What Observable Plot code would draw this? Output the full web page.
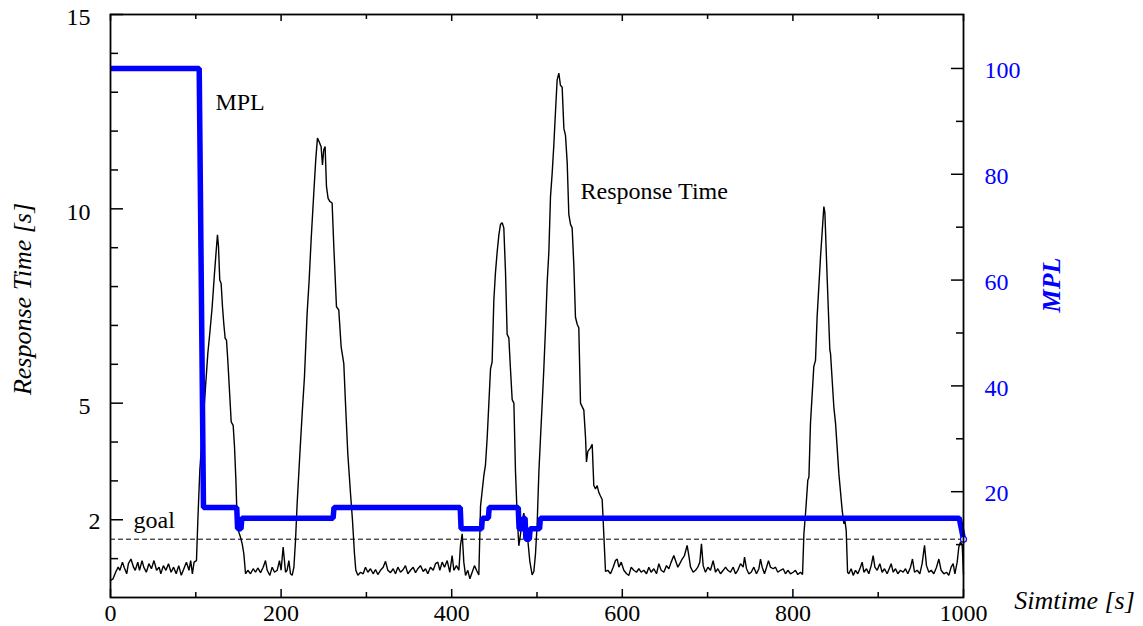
<!DOCTYPE html>
<html>
<head>
<meta charset="utf-8">
<script src="https://cdn.jsdelivr.net/npm/d3@7"></script>
<script src="https://cdn.jsdelivr.net/npm/@observablehq/plot@0.6"></script>
<style>
  html, body { margin: 0; padding: 0; background: #fff; }
  svg { display: block; }
</style>
</head>
<body>
<div id="chart"></div>
<script>
// ---------------- DATA ----------------
// Response time [s] over simulation time [s] : [time, value]
const responseTime = [
  [0,0.44],[3,0.48],[6,0.65],[9,0.78],[11,0.7],[14,0.91],[16,0.78],[19,0.61],[21,0.87],[24,0.99],[27,0.78],[29,0.7],[32,0.91],[34,0.7],[37,0.95],[39,0.78],[42,0.65],[45,0.87],[48,0.74],[51,0.95],[54,0.7],[57,0.78],[59,0.61],[62,0.82],[65,0.7],[68,0.87],[71,0.65],[74,0.78],[77,0.61],[80,0.82],[83,0.57],[86,0.74],[89,0.91],[92,0.7],[94,0.95],[96,0.61],[98,0.91],[100.8,0.95],
  [102.4,1.98],[104.7,3.27],[107.4,4.13],[111.4,5.42],[114.1,6.28],[116.4,6.8],[119.2,7.48],[121.9,8.34],[124.3,9.03],[125.4,9.33],[126.6,9.03],[128.1,8.17],[129.7,8.08],[131.3,7.48],[132.8,7.05],[134.4,6.67],[136,6.62],[137.5,6.11],[139.9,5.16],[141.5,4.52],[143.8,4.43],[145.4,3.87],[147,3.02],[148.5,1.98],[150.5,1.68],[152.4,1.55],[154.4,1.38],[156.3,1.13],[158.3,0.61],
  [161,0.7],[164.1,0.61],[167.3,0.74],[170,0.65],[172.7,0.76],[175.9,0.64],[179,0.78],[181.7,0.95],[183.7,0.7],[186.8,0.57],[189.5,0.78],[192.3,0.65],[195.4,0.7],[198.1,0.95],[200,0.7],[202.4,1.3],[205.2,0.65],[207,0.7],[209.1,0.95],[211,0.61],[213,0.57],
  [215,0.78],[216.9,1.47],[218.8,2.41],[222,3.7],[224.7,4.73],[227.4,5.68],[230.5,7.31],[232.9,8.17],[235.2,9.2],[238.3,10.4],[240.6,11.26],[242.6,11.82],[244.5,11.73],[246.9,11.6],[248.5,11.13],[250,11.52],[251.6,11.6],[253.2,10.57],[255.1,10.27],[257.1,10.19],[259.8,10.15],[261.8,9.03],[264.9,7.48],[267.6,7.4],[270.4,6.45],[273.5,6.02],[275.5,4.99],[278.2,3.7],[281.4,2.67],[283.7,1.98],[286,1.13],[287.6,0.7],[290,0.57],
  [293.1,0.65],[296.2,0.61],[298.9,0.78],[301.7,0.65],[304.8,0.74],[307.9,0.61],[310.7,0.72],[313.4,0.59],[316.5,0.7],[319.7,0.78],[322.4,0.93],[325.1,0.7],[328.3,0.64],[331.4,0.74],[334.1,0.61],[336.9,0.78],[340,0.65],[343.1,0.72],[345.8,0.82],[348.6,0.61],[351.7,0.7],[354.8,0.78],[357.6,0.64],[360.3,0.74],[363.4,0.82],[366.6,0.67],[369.3,0.74],[372,0.61],[375.1,0.78],[378.3,0.7],[381,0.87],[383.7,0.91],[386.1,0.7],[388.8,0.91],[391.6,0.78],[394.7,0.95],[397.8,0.65],[400.5,1.08],[402.5,0.7],[405.6,0.82],[408.4,0.7],[410.3,1.34],[412.3,1.64],[414.2,0.91],[416.2,0.57],[418.9,0.7],[421.3,0.48],[424,0.65],[426.7,0.82],[429.1,0.7],[431.8,0.58],
  [433.8,2.35],[437.7,3.14],[439.6,3.41],[441.6,4.11],[445.5,5.88],[447.4,6.06],[449.4,7.65],[451.3,8.36],[453.3,8.89],[455.3,9.33],[457.2,9.6],[459.2,9.64],[461.1,9.51],[463.1,8.36],[465,6.77],[467,6.68],[468.9,5.88],[470.9,5.09],[472.9,5.0],[474.8,3.23],[476.8,2.08],[478.7,1.33],[480.7,1.63],[482.6,1.99],[484.6,2.17],[486.5,1.81],[489.3,1.46],[491.6,0.93],[494.3,0.58],[496.3,0.67],[498.2,1.11],[500.2,1.9],[502.2,3.23],[504.1,4.11],[506.1,5.0],[508,5.88],[510,6.94],[511.9,8.09],[513.9,8.89],[515.8,10.3],[517.8,10.92],[519.7,11.63],[521.7,12.51],[523.6,13.31],[525.6,13.49],[527.5,13.18],[529.5,13.13],[531.5,12.07],[533.4,11.89],[535.4,11.19],[537.3,9.86],[539.3,9.6],[541.2,9.51],[543.2,8.54],[545.1,7.21],[547.1,7.03],[549,6.94],[551,5.0],[552.9,4.91],[554.9,4.82],[556.9,4.11],[558,3.49],[559.6,3.76],[562.7,3.85],[564.7,3.94],[566.6,2.88],[568.6,2.79],[570.5,2.88],[572.5,2.7],[574.4,2.61],[576.4,2.52],[578.3,1.63],[580.3,0.67],
  [583,0.7],[586.2,0.61],[589.3,0.78],[592,0.95],[594,0.99],[596,0.78],[598.7,0.91],[601.8,0.7],[605,0.61],[607.7,0.57],[610.4,0.78],[613.5,0.7],[616.6,0.65],[619.4,0.74],[622.1,0.65],[625.2,0.7],[628.4,0.61],[631.1,0.78],[633.8,0.65],[637,0.74],[640.1,0.61],[642.8,0.87],[645.6,0.7],[648.7,0.65],[651.8,0.82],[654.6,0.74],[657.3,0.91],[660.4,1.08],[662.4,0.95],[665.1,0.78],[667.4,0.87],[670.2,0.99],[672.9,1.08],[676,1.34],[678,1.08],[680,0.78],[683.1,0.65],[685.8,0.7],[688.5,0.78],[690.9,0.91],[692.8,1.38],[694.8,0.82],[697.5,0.65],[700.3,0.78],[703.4,0.7],[706.5,0.95],[709.3,0.65],[712,0.74],[715.1,0.61],[718.3,0.7],[721,0.78],[723.7,0.7],[726.8,0.65],[730,0.78],[732.7,0.61],[735.4,0.7],[738.6,0.87],[741.7,0.78],[743.3,1.04],[745.6,0.74],[748.3,0.61],[751.1,0.65],[754.2,0.78],[757.3,0.61],[760.1,0.74],[762,0.99],[764,0.78],[766.7,0.61],[769.1,0.78],[771.4,0.95],[773.7,0.78],[776.9,0.74],[779.6,0.78],[782.3,0.65],[785.5,0.7],[788.6,0.74],[791.3,0.61],[794.1,0.7],[797.2,0.61],[800.3,0.65],[803,0.7],[805.8,0.59],[808.9,0.65],[811.3,0.59],
  [812.9,1.64],[814.8,2.16],[817.5,3.02],[818.8,3.1],[820.6,4.48],[824.5,5.94],[826.5,6.1],[828.4,7.22],[832.4,8.77],[836.3,10.06],[837.5,9.9],[840.2,8.2],[843.3,6.37],[844.1,6.28],[848,4.9],[850,4.48],[853.9,3.18],[857.8,2.24],[859.7,1.9],[861,1.98],[862.5,1.72],[864.1,0.65],
  [865.6,0.61],[868.3,0.74],[870.7,0.57],[873.4,0.7],[876.1,0.61],[879.2,0.78],[881.2,0.91],[883.2,0.65],[886.3,0.74],[889,0.61],[891.8,0.82],[894.1,1.08],[896.1,0.78],[898.8,0.7],[901.9,0.87],[904.6,0.65],[907.4,0.74],[910.5,0.61],[913.6,0.78],[915.2,0.87],[917.6,0.65],[920.3,0.74],[923,0.61],[926.1,0.7],[929.3,0.65],[932,0.74],[934.7,0.61],[937.9,0.78],[940.2,0.99],[942.6,0.65],[945.7,0.7],[948.8,0.61],[951.5,0.87],[954.3,1.34],[956.6,0.82],[959.4,0.65],[962.1,0.7],[965.2,0.61],[968.4,0.78],[971.1,0.99],[973.8,0.7],[977,0.61],[980.1,0.65],[982.8,0.57],[985.5,0.78],[987.9,0.87],[989.9,0.61],[992.6,0.91],[994.5,1.3],[996.5,1.43],[998.5,1.34],[1000,0.6]
];

// MPL (multi-programming level) over simulation time : [time, value]
const mpl = [
  [0,100],[104,100],[109,17],[148,17],[149,13],[153,13],[154,15],[261,15],[262,17],
  [410,17],[411,13],[435,13],[436,15],[443,15],[444,17],[478,17],[479,13],[483,13],
  [484,15],[486,15],[487,11],[491,11],[492,13],[503,13],[504,15],[995,15],[1000,11]
];

const goal = [1.5];

// tick values / labels
const xTickLabels = [0, 200, 400, 600, 800, 1000];
const xMinorTicks = [100, 300, 500, 700, 900];
const rtTickLabels = [2, 5, 10, 15];
const rtMinorTicks = [1, 3, 4, 6, 7, 8, 9, 11, 12, 13, 14];
const mplTickLabels = [20, 40, 60, 80, 100];
const mplMinorTicks = [10, 30, 50, 70, 90];

const annotations = [
  {t: 123, v: 12.75, label: "MPL"},
  {t: 551, v: 10.44, label: "Response Time"},
  {t: 27, v: 1.99, label: "goal"}
];

// ---------------- LAYOUT ----------------
const W = 1143, H = 626;
const M = {top: 14, right: 180, bottom: 29, left: 110};
const innerW = W - M.left - M.right;
const innerH = H - M.top - M.bottom;
const rtMax = 15, mplMax = 110.2;
const k = rtMax / mplMax;          // MPL -> response-time scale units
const blue = "#0000ff";
const font = "Liberation Serif";

const chart = Plot.plot({
  width: W, height: H,
  marginTop: M.top, marginRight: M.right, marginBottom: M.bottom, marginLeft: M.left,
  x: {domain: [0, 1000], axis: null},
  y: {domain: [0, rtMax], axis: null},
  style: {fontFamily: font, background: "white", overflow: "visible"},
  marks: [
    Plot.ruleY(goal, {y: d => d, stroke: "black", strokeWidth: 1, strokeDasharray: "5,3"}),
    Plot.line(responseTime, {x: d => d[0], y: d => d[1], stroke: "black", strokeWidth: 1.4, strokeLinejoin: "miter"}),
    Plot.line(mpl, {x: d => d[0], y: d => d[1] * k, stroke: blue, strokeWidth: 5.5, strokeLinejoin: "miter", strokeLinecap: "butt"}),
    Plot.dot([mpl[mpl.length - 1]], {x: d => d[0], y: d => d[1] * k, r: 3, stroke: blue, fill: "white", strokeWidth: 1.2}),
    Plot.frame({stroke: "black", strokeWidth: 1.8}),

    // inward ticks: left (response time)
    Plot.tickY(rtTickLabels, {y: d => d, insetRight: innerW - 13, stroke: "black", strokeWidth: 1.5}),
    Plot.tickY(rtMinorTicks, {y: d => d, insetRight: innerW - 8, stroke: "black", strokeWidth: 1.5}),
    // inward ticks: right (MPL)
    Plot.tickY(mplTickLabels, {y: d => d * k, insetLeft: innerW - 12, stroke: "black", strokeWidth: 1.5}),
    Plot.tickY(mplMinorTicks, {y: d => d * k, insetLeft: innerW - 7, stroke: "black", strokeWidth: 1.5}),
    // inward ticks: bottom and top (time)
    Plot.tickX(xTickLabels, {x: d => d, insetTop: innerH - 8, stroke: "black", strokeWidth: 1.5}),
    Plot.tickX(xMinorTicks, {x: d => d, insetTop: innerH - 5, stroke: "black", strokeWidth: 1.5}),
    Plot.tickX(xTickLabels, {x: d => d, insetBottom: innerH - 7, stroke: "black", strokeWidth: 1.5}),
    Plot.tickX(xMinorTicks, {x: d => d, insetBottom: innerH - 5, stroke: "black", strokeWidth: 1.5}),

    // tick labels
    Plot.text(rtTickLabels, {filter: d => d !== 2, y: d => d, text: d => String(d), frameAnchor: "left", dx: -20, dy: 3, textAnchor: "end", lineAnchor: "middle", fontSize: 24, fontFamily: font, fill: "black"}),
    Plot.text(rtTickLabels, {filter: d => d === 2, y: d => d, text: d => String(d), frameAnchor: "left", dx: -10, dy: 2, textAnchor: "end", lineAnchor: "middle", fontSize: 24, fontFamily: font, fill: "black"}),
    Plot.text(mplTickLabels, {y: d => d * k, text: d => String(d), frameAnchor: "right", dx: 21, dy: 2, textAnchor: "start", lineAnchor: "middle", fontSize: 24, fontFamily: font, fill: blue}),
    Plot.text(xTickLabels, {x: d => d, text: d => String(d), frameAnchor: "bottom", dy: 16, textAnchor: "middle", lineAnchor: "middle", fontSize: 24, fontFamily: font, fill: "black"}),

    // in-plot annotations
    Plot.text(annotations, {x: "t", y: "v", text: "label", textAnchor: "start", lineAnchor: "middle", fontSize: 24, fontFamily: font, fill: "black"}),

    // axis titles
    Plot.text(["Response Time [s]"], {text: d => d, frameAnchor: "left", dx: -88, dy: -7, rotate: -90, textAnchor: "middle", lineAnchor: "middle", fontSize: 26, fontStyle: "italic", fontFamily: font, fill: "black"}),
    Plot.text(["MPL"], {text: d => d, frameAnchor: "right", dx: 88, dy: -21, rotate: -90, textAnchor: "middle", lineAnchor: "middle", fontSize: 26, fontStyle: "italic", fontWeight: "bold", fontFamily: font, fill: blue}),
    Plot.text(["Simtime [s]"], {text: d => d, frameAnchor: "bottom-right", dx: 111, dy: 3, textAnchor: "middle", lineAnchor: "middle", fontSize: 26, fontStyle: "italic", fontFamily: font, fill: "black"})
  ]
});

document.getElementById("chart").appendChild(chart);
</script>
</body>
</html>
